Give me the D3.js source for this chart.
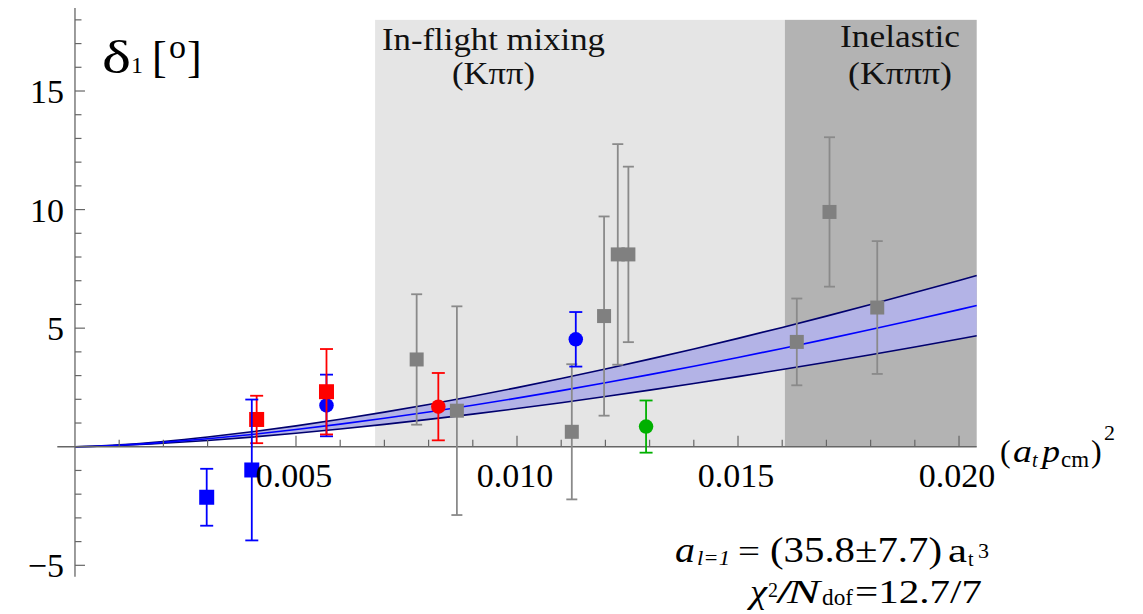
<!DOCTYPE html>
<html><head><meta charset="utf-8">
<script src="https://cdn.jsdelivr.net/npm/d3@7"></script>
<style>body{margin:0;background:#fff}svg{display:block}text{font-family:"Liberation Serif","Times New Roman",serif}</style>
</head><body>
<svg id="c" width="1143" height="614"></svg>
<script>
// ---- data ----
const xTickValues = [0.005, 0.010, 0.015, 0.020];
const xTickLabels = ["0.005", "0.010", "0.015", "0.020"];
const yTickValues = [15, 10, 5, -5];
const yTickLabels = ["15", "10", "5", "\u22125"];

const regionInflight = [0.00679, 0.01606];
const regionInelastic = [0.01606, 0.0204];
const regionTop = 18;

const blueSqX = [0.00298, 0.00400];
const blueSqY = [-2.13, -0.98];
const blueSqE = [1.2, 2.97];

const redSqX = [0.00411, 0.00569];
const redSqY = [1.15, 2.32];
const redSqE = [1.0, 1.8];

const blueCiX = [0.00569, 0.01133];
const blueCiY = [1.74, 4.53];
const blueCiE = [1.3, 1.15];

const redCiX = [0.00822];
const redCiY = [1.69];
const redCiE = [1.42];

const greenCiX = [0.01292];
const greenCiY = [0.85];
const greenCiE = [1.1];

const greySqX = [0.00773, 0.00864, 0.01124, 0.01197, 0.01228, 0.01252, 0.01633, 0.01707, 0.01815];
const greySqY = [3.68, 1.52, 0.63, 5.51, 8.11, 8.11, 4.42, 9.90, 5.87];
const greySqE = [2.75, 4.4, 2.85, 4.2, 4.65, 3.7, 1.83, 3.15, 2.8];

// fit curve samples (central, lower, upper)
const fitX = [0, 0.0005, 0.001, 0.002, 0.003, 0.004, 0.005, 0.006, 0.007, 0.008, 0.009, 0.010, 0.011, 0.012, 0.013, 0.014, 0.015, 0.016, 0.017, 0.018, 0.019, 0.020, 0.0204];
const fitMid = [0, 0.023, 0.065, 0.184, 0.337, 0.519, 0.725, 0.953, 1.201, 1.468, 1.751, 2.050, 2.366, 2.695, 3.040, 3.396, 3.763, 4.144, 4.537, 4.941, 5.356, 5.782, 5.955];
const fitLo = [0, 0.018, 0.051, 0.144, 0.265, 0.407, 0.569, 0.748, 0.943, 1.152, 1.375, 1.610, 1.857, 2.116, 2.386, 2.667, 2.955, 3.254, 3.564, 3.882, 4.209, 4.544, 4.681];
const fitHi = [0, 0.028, 0.079, 0.223, 0.410, 0.631, 0.881, 1.158, 1.460, 1.783, 2.128, 2.492, 2.875, 3.276, 3.694, 4.122, 4.569, 5.031, 5.507, 5.997, 6.500, 7.014, 7.223];

// ---- drawing ----
const svg = d3.select("#c");
const x = d3.scaleLinear().domain([-0.0004, 0.0204]).range([57.3, 976.7]);
const y = d3.scaleLinear().domain([-5.48, 18.5]).range([576.7, 8]);

function txt(str, px, py, size, opts = {}) {
  const t = svg.append("text").attr("x", px).attr("y", py).attr("font-size", size).attr("fill", opts.fill || "#000").text(str);
  if (opts.italic) t.attr("font-style", "italic");
  if (opts.len) t.attr("textLength", opts.len).attr("lengthAdjust", "spacingAndGlyphs");
  if (opts.anchor) t.attr("text-anchor", opts.anchor);
  return t;
}

// shaded regions
svg.append("rect").attr("x", x(regionInflight[0])).attr("y", y(regionTop))
  .attr("width", x(regionInflight[1]) - x(regionInflight[0])).attr("height", y(0) - y(regionTop))
  .attr("fill", "#e5e5e5");
svg.append("rect").attr("x", x(regionInelastic[0])).attr("y", y(regionTop))
  .attr("width", x(regionInelastic[1]) - x(regionInelastic[0])).attr("height", y(0) - y(regionTop))
  .attr("fill", "#b3b3b3");

// region labels
txt("In-flight mixing", 382, 50, 31, {len: 223, fill: "#111"});
txt("(K\u03c0\u03c0)", 452, 84, 31, {len: 83, fill: "#111"});
txt("Inelastic", 840, 47, 31, {len: 120, fill: "#111"});
txt("(K\u03c0\u03c0\u03c0)", 848, 84, 31, {len: 104, fill: "#111"});

// fit band
const fit = fitX.map((v, i) => ({x: v, m: fitMid[i], lo: fitLo[i], hi: fitHi[i]}));
svg.append("path").datum(fit)
  .attr("d", d3.area().x(d => x(d.x)).y0(d => y(d.lo)).y1(d => y(d.hi)).curve(d3.curveMonotoneX))
  .attr("fill", "#b3b3e6");
const line = k => d3.line().x(d => x(d.x)).y(d => y(d[k])).curve(d3.curveMonotoneX);
svg.append("path").datum(fit).attr("d", line("hi")).attr("fill", "none").attr("stroke", "#00006e").attr("stroke-width", 1.6);
svg.append("path").datum(fit).attr("d", line("lo")).attr("fill", "none").attr("stroke", "#00006e").attr("stroke-width", 1.6);
svg.append("path").datum(fit).attr("d", line("m")).attr("fill", "none").attr("stroke", "#0000ff").attr("stroke-width", 1.6);

// axes
const axisColor = "#666";
svg.append("line").attr("x1", x(-0.0004)).attr("x2", x(0.0204)).attr("y1", y(0)).attr("y2", y(0)).attr("stroke", axisColor).attr("stroke-width", 1.3);
svg.append("line").attr("x1", x(0)).attr("x2", x(0)).attr("y1", y(18.5)).attr("y2", y(-5.48)).attr("stroke", axisColor).attr("stroke-width", 1.3);

const xMinor = d3.range(1, 21).map(k => k * 0.001);
svg.append("g").selectAll("line").data(xMinor).join("line")
  .attr("x1", d => x(d)).attr("x2", d => x(d))
  .attr("y1", y(0)).attr("y2", (d, i) => y(0) - ((i + 1) % 5 === 0 ? 11 : 7))
  .attr("stroke", axisColor).attr("stroke-width", 1.2);
const yMinor = d3.range(-5, 19).filter(v => v !== 0);
svg.append("g").selectAll("line").data(yMinor).join("line")
  .attr("x1", x(0)).attr("x2", d => x(0) + (d % 5 === 0 ? 10 : 6.5))
  .attr("y1", d => y(d)).attr("y2", d => y(d))
  .attr("stroke", axisColor).attr("stroke-width", 1.2);

// data points with error bars
function drawSeries(xs, ys, es, color, barColor, shape, size, cap) {
  const data = xs.map((v, i) => ({x: v, y: ys[i], e: es[i]}));
  const g = svg.append("g");
  g.selectAll("line.v").data(data).join("line")
    .attr("x1", d => x(d.x)).attr("x2", d => x(d.x)).attr("y1", d => y(d.y + d.e)).attr("y2", d => y(d.y - d.e))
    .attr("stroke", barColor).attr("stroke-width", 1.8);
  g.selectAll("line.t").data(data).join("line")
    .attr("x1", d => x(d.x) - cap).attr("x2", d => x(d.x) + cap).attr("y1", d => y(d.y + d.e)).attr("y2", d => y(d.y + d.e))
    .attr("stroke", barColor).attr("stroke-width", 1.8);
  g.selectAll("line.b").data(data).join("line")
    .attr("x1", d => x(d.x) - cap).attr("x2", d => x(d.x) + cap).attr("y1", d => y(d.y - d.e)).attr("y2", d => y(d.y - d.e))
    .attr("stroke", barColor).attr("stroke-width", 1.8);
  if (shape === "square") {
    g.selectAll("rect").data(data).join("rect")
      .attr("x", d => x(d.x) - size / 2).attr("y", d => y(d.y) - size / 2).attr("width", size).attr("height", size).attr("fill", color);
  } else {
    g.selectAll("circle").data(data).join("circle")
      .attr("cx", d => x(d.x)).attr("cy", d => y(d.y)).attr("r", size / 2).attr("fill", color);
  }
}
drawSeries(greySqX, greySqY, greySqE, "#808080", "#8a8a8a", "square", 14, 5.5);
drawSeries(blueCiX, blueCiY, blueCiE, "#0000ff", "#0000ff", "circle", 14.5, 6.5);
drawSeries(redSqX, redSqY, redSqE, "#ff0000", "#ff0000", "square", 15, 6.5);
drawSeries(blueSqX, blueSqY, blueSqE, "#0000ff", "#0000ff", "square", 15, 6.5);
drawSeries(redCiX, redCiY, redCiE, "#ff0000", "#ff0000", "circle", 14.5, 6.5);
drawSeries(greenCiX, greenCiY, greenCiE, "#00b000", "#00b000", "circle", 14.5, 6.5);

// tick labels
svg.append("g").selectAll("text").data(xTickValues).join("text")
  .attr("x", d => x(d) - 2).attr("y", 487).attr("text-anchor", "middle").attr("font-size", 34).attr("fill", "#000")
  .text((d, i) => xTickLabels[i]);
svg.append("g").selectAll("text").data(yTickValues).join("text")
  .attr("x", 64).attr("y", d => y(d) + 12).attr("text-anchor", "end").attr("font-size", 34).attr("fill", "#000")
  .text((d, i) => yTickLabels[i]);

// y label: δ1 [o]
txt("\u03b4", 102, 73, 46, {len: 29});
txt("1", 131, 73, 24);
txt("[", 152, 72, 44);
txt("o", 169, 58, 33, {len: 17});
txt("]", 187, 72, 44);

// x label: (a_t p_cm)^2
txt("(", 1000, 462, 32);
txt("a", 1013, 462, 32, {italic: true, len: 19});
txt("t", 1032, 467, 20, {italic: true});
txt("p", 1042, 462, 32, {italic: true, len: 18});
txt("cm", 1061, 467, 23, {len: 28});
txt(")", 1091, 462, 32);
txt("2", 1104, 440, 22);

// fit result text
txt("a", 675, 562, 36, {italic: true, len: 20});
txt("l=1", 697, 565, 20, {italic: true, len: 33});
txt("=", 738, 562, 32, {len: 22});
txt("(35.8\u00b17.7)", 770, 562, 35, {len: 172});
txt("a", 948, 562, 33, {len: 19});
txt("t", 968, 566, 20);
txt("3", 978, 558, 22);

txt("\u03c7", 750, 603, 34, {italic: true, len: 17});
txt("2", 768, 597, 20);
txt("/", 776, 603, 34, {len: 17});
txt("N", 787, 603, 34, {italic: true, len: 33});
txt("dof", 822, 605, 24, {len: 31});
txt("=12.7/7", 855, 603, 34, {len: 127});
</script>
</body></html>
